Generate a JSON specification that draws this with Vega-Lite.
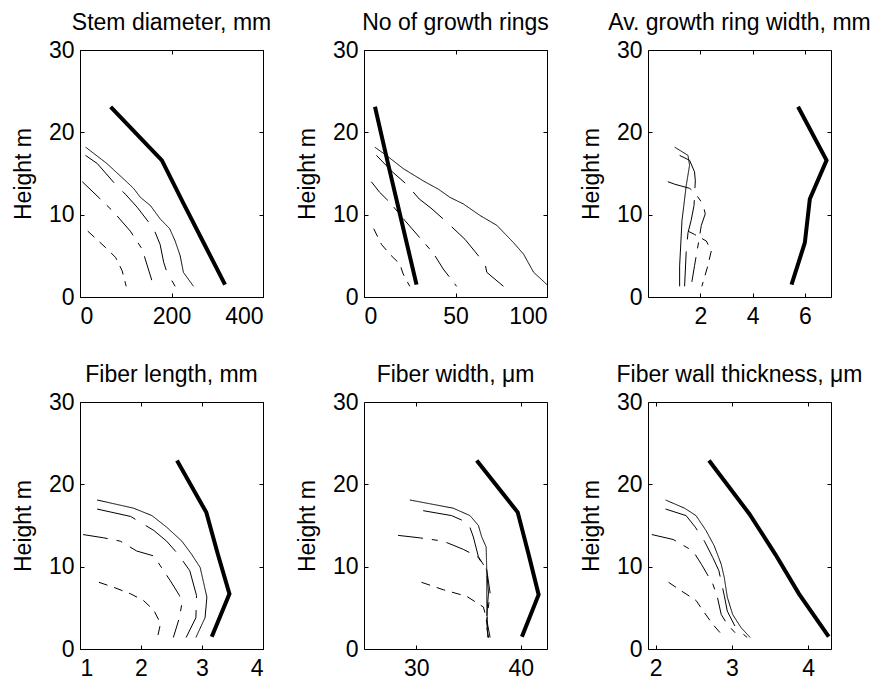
{
  "$schema": "https://vega.github.io/schema/vega-lite/v6.json",
  "padding": {"left": 11, "top": 11, "right": 5, "bottom": 0},
  "background": "white",
  "config": {
    "font": "Liberation Sans",
    "view": {"stroke": "black", "strokeWidth": 1},
    "axis": {
      "domain": false, "grid": false, "tickColor": "black", "tickSize": -4, "tickWidth": 1,
      "labelFont": "Liberation Sans", "labelFontSize": 23, "labelColor": "black",
      "titleFont": "Liberation Sans", "titleFontSize": 23, "titleFontWeight": "normal", "titleColor": "black"
    },
    "axisLeft": {"labelPadding": 10, "titlePadding": 13},
    "axisBottom": {"labelPadding": 12},
    "title": {"font": "Liberation Sans", "fontSize": 23, "fontWeight": "normal", "color": "black", "offset": 4}
  },
  "datasets": {
    "d": [
      {"p":1,"s":"T","x":67,"y":23.1},{"p":1,"s":"T","x":179,"y":16.6},{"p":1,"s":"T","x":225,"y":11.5},{"p":1,"s":"T","x":271,"y":6.5},{"p":1,"s":"T","x":317,"y":1.5},
      {"p":1,"s":"A","x":12.3,"y":18.2},{"p":1,"s":"A","x":59,"y":16.2},{"p":1,"s":"A","x":96,"y":14.3},{"p":1,"s":"A","x":117,"y":13.2},{"p":1,"s":"A","x":132,"y":12.1},{"p":1,"s":"A","x":154,"y":11.1},{"p":1,"s":"A","x":175,"y":9.5},{"p":1,"s":"A","x":196,"y":8.3},{"p":1,"s":"A","x":208,"y":6.8},{"p":1,"s":"A","x":219,"y":5.0},{"p":1,"s":"A","x":226,"y":3.0},{"p":1,"s":"A","x":248,"y":1.3},
      {"p":1,"s":"B","x":12,"y":17.2},{"p":1,"s":"B","x":38,"y":16.2},{"p":1,"s":"B","x":74,"y":13.9},{"p":1,"s":"B","x":99,"y":12.5},{"p":1,"s":"B","x":125,"y":10.9},{"p":1,"s":"B","x":161,"y":8.3},{"p":1,"s":"B","x":175,"y":6.4},{"p":1,"s":"B","x":183,"y":4.2},{"p":1,"s":"B","x":190,"y":3.0},{"p":1,"s":"B","x":208,"y":1.3},
      {"p":1,"s":"C","x":5,"y":14.0},{"p":1,"s":"C","x":52,"y":11.5},{"p":1,"s":"C","x":74,"y":10.3},{"p":1,"s":"C","x":110,"y":8.0},{"p":1,"s":"C","x":136,"y":5.8},{"p":1,"s":"C","x":146,"y":4.0},{"p":1,"s":"C","x":161,"y":1.3},
      {"p":1,"s":"D","x":17,"y":8.0},{"p":1,"s":"D","x":56,"y":6.0},{"p":1,"s":"D","x":78,"y":4.8},{"p":1,"s":"D","x":92,"y":3.2},{"p":1,"s":"D","x":101,"y":1.3},

      {"p":2,"s":"T","x":6,"y":23.1},{"p":2,"s":"T","x":12.8,"y":16.5},{"p":2,"s":"T","x":18.1,"y":11.5},{"p":2,"s":"T","x":23.4,"y":6.5},{"p":2,"s":"T","x":28.7,"y":1.5},
      {"p":2,"s":"A","x":5.9,"y":18.2},{"p":2,"s":"A","x":12.2,"y":17.2},{"p":2,"s":"A","x":21.4,"y":15.6},{"p":2,"s":"A","x":32.4,"y":14.1},{"p":2,"s":"A","x":40.6,"y":13.1},{"p":2,"s":"A","x":47,"y":12.1},{"p":2,"s":"A","x":54.3,"y":11.3},{"p":2,"s":"A","x":63.4,"y":9.9},{"p":2,"s":"A","x":72.6,"y":8.7},{"p":2,"s":"A","x":81.7,"y":6.6},{"p":2,"s":"A","x":87.2,"y":5.2},{"p":2,"s":"A","x":92.7,"y":3.0},{"p":2,"s":"A","x":100,"y":1.5},
      {"p":2,"s":"B","x":6.8,"y":17.2},{"p":2,"s":"B","x":15.5,"y":15.2},{"p":2,"s":"B","x":23.2,"y":13.7},{"p":2,"s":"B","x":30.2,"y":11.9},{"p":2,"s":"B","x":36.6,"y":10.8},{"p":2,"s":"B","x":45.2,"y":9.1},{"p":2,"s":"B","x":55.2,"y":7.0},{"p":2,"s":"B","x":60.7,"y":5.5},{"p":2,"s":"B","x":66.2,"y":4.0},{"p":2,"s":"B","x":67.1,"y":3.0},{"p":2,"s":"B","x":76.2,"y":1.3},
      {"p":2,"s":"C","x":4.0,"y":14.0},{"p":2,"s":"C","x":8.6,"y":12.7},{"p":2,"s":"C","x":14.1,"y":11.5},{"p":2,"s":"C","x":22.3,"y":9.3},{"p":2,"s":"C","x":30.5,"y":7.2},{"p":2,"s":"C","x":36.0,"y":5.8},{"p":2,"s":"C","x":38.8,"y":5.0},{"p":2,"s":"C","x":43.3,"y":3.4},{"p":2,"s":"C","x":50.6,"y":1.3},
      {"p":2,"s":"D","x":5.3,"y":8.3},{"p":2,"s":"D","x":9.5,"y":6.4},{"p":2,"s":"D","x":14.1,"y":5.2},{"p":2,"s":"D","x":19.6,"y":4.0},{"p":2,"s":"D","x":21.4,"y":2.8},{"p":2,"s":"D","x":25.0,"y":1.3},

      {"p":3,"s":"T","x":5.74,"y":23.1},{"p":3,"s":"T","x":6.83,"y":16.6},{"p":3,"s":"T","x":6.19,"y":11.9},{"p":3,"s":"T","x":6.0,"y":6.6},{"p":3,"s":"T","x":5.49,"y":1.5},
      {"p":3,"s":"A","x":1.02,"y":18.2},{"p":3,"s":"A","x":1.53,"y":17.2},{"p":3,"s":"A","x":1.59,"y":16.0},{"p":3,"s":"A","x":1.46,"y":13.5},{"p":3,"s":"A","x":1.37,"y":11.1},{"p":3,"s":"A","x":1.30,"y":9.3},{"p":3,"s":"A","x":1.25,"y":6.2},{"p":3,"s":"A","x":1.21,"y":3.8},{"p":3,"s":"A","x":1.21,"y":1.3},
      {"p":3,"s":"B","x":1.21,"y":17.2},{"p":3,"s":"B","x":1.59,"y":16.6},{"p":3,"s":"B","x":1.78,"y":15.2},{"p":3,"s":"B","x":1.81,"y":14.1},{"p":3,"s":"B","x":1.76,"y":11.1},{"p":3,"s":"B","x":1.65,"y":9.3},{"p":3,"s":"B","x":1.53,"y":7.8},{"p":3,"s":"B","x":1.46,"y":5.4},{"p":3,"s":"B","x":1.40,"y":1.3},
      {"p":3,"s":"C","x":0.76,"y":14.0},{"p":3,"s":"C","x":1.02,"y":13.7},{"p":3,"s":"C","x":1.59,"y":13.2},{"p":3,"s":"C","x":1.78,"y":12.7},{"p":3,"s":"C","x":2.1,"y":11.3},{"p":3,"s":"C","x":2.19,"y":10.1},{"p":3,"s":"C","x":2.04,"y":8.7},{"p":3,"s":"C","x":1.91,"y":6.2},{"p":3,"s":"C","x":1.78,"y":3.8},{"p":3,"s":"C","x":1.65,"y":1.3},
      {"p":3,"s":"D","x":1.53,"y":8.0},{"p":3,"s":"D","x":1.78,"y":7.6},{"p":3,"s":"D","x":2.23,"y":6.8},{"p":3,"s":"D","x":2.42,"y":5.6},{"p":3,"s":"D","x":2.29,"y":3.8},{"p":3,"s":"D","x":2.06,"y":1.3},

      {"p":4,"s":"T","x":2.59,"y":22.9},{"p":4,"s":"T","x":3.07,"y":16.6},{"p":4,"s":"T","x":3.26,"y":11.5},{"p":4,"s":"T","x":3.45,"y":6.7},{"p":4,"s":"T","x":3.16,"y":1.5},
      {"p":4,"s":"A","x":1.28,"y":18.1},{"p":4,"s":"A","x":1.88,"y":17.1},{"p":4,"s":"A","x":2.18,"y":16.2},{"p":4,"s":"A","x":2.42,"y":14.8},{"p":4,"s":"A","x":2.67,"y":13.1},{"p":4,"s":"A","x":2.83,"y":11.5},{"p":4,"s":"A","x":2.97,"y":9.9},{"p":4,"s":"A","x":3.08,"y":6.3},{"p":4,"s":"A","x":3.05,"y":3.8},{"p":4,"s":"A","x":2.90,"y":1.4},
      {"p":4,"s":"B","x":1.28,"y":17.0},{"p":4,"s":"B","x":1.83,"y":16.1},{"p":4,"s":"B","x":2.21,"y":14.4},{"p":4,"s":"B","x":2.42,"y":13.1},{"p":4,"s":"B","x":2.61,"y":11.5},{"p":4,"s":"B","x":2.80,"y":9.5},{"p":4,"s":"B","x":2.91,"y":6.5},{"p":4,"s":"B","x":2.90,"y":3.8},{"p":4,"s":"B","x":2.74,"y":1.4},
      {"p":4,"s":"C","x":1.05,"y":13.9},{"p":4,"s":"C","x":1.39,"y":13.5},{"p":4,"s":"C","x":1.66,"y":13.1},{"p":4,"s":"C","x":1.93,"y":11.9},{"p":4,"s":"C","x":2.21,"y":11.3},{"p":4,"s":"C","x":2.48,"y":8.3},{"p":4,"s":"C","x":2.63,"y":6.5},{"p":4,"s":"C","x":2.67,"y":5.5},{"p":4,"s":"C","x":2.63,"y":3.8},{"p":4,"s":"C","x":2.53,"y":1.4},
      {"p":4,"s":"D","x":1.31,"y":8.1},{"p":4,"s":"D","x":1.55,"y":7.5},{"p":4,"s":"D","x":1.83,"y":6.7},{"p":4,"s":"D","x":2.04,"y":5.9},{"p":4,"s":"D","x":2.21,"y":4.7},{"p":4,"s":"D","x":2.32,"y":3.1},{"p":4,"s":"D","x":2.27,"y":1.4},

      {"p":5,"s":"T","x":35.78,"y":22.9},{"p":5,"s":"T","x":39.7,"y":16.6},{"p":5,"s":"T","x":40.74,"y":11.5},{"p":5,"s":"T","x":41.7,"y":6.6},{"p":5,"s":"T","x":40.1,"y":1.5},
      {"p":5,"s":"A","x":29.38,"y":18.1},{"p":5,"s":"A","x":33.54,"y":17.1},{"p":5,"s":"A","x":35.14,"y":16.2},{"p":5,"s":"A","x":35.94,"y":15.0},{"p":5,"s":"A","x":36.26,"y":13.6},{"p":5,"s":"A","x":36.68,"y":12.4},{"p":5,"s":"A","x":36.74,"y":9.6},{"p":5,"s":"A","x":36.74,"y":5.6},{"p":5,"s":"A","x":36.84,"y":1.4},
      {"p":5,"s":"B","x":30.66,"y":16.8},{"p":5,"s":"B","x":33.38,"y":16.2},{"p":5,"s":"B","x":34.98,"y":15.3},{"p":5,"s":"B","x":35.46,"y":13.6},{"p":5,"s":"B","x":35.94,"y":11.2},{"p":5,"s":"B","x":36.74,"y":9.6},{"p":5,"s":"B","x":36.9,"y":6.8},{"p":5,"s":"B","x":36.68,"y":3.0},{"p":5,"s":"B","x":36.9,"y":1.4},
      {"p":5,"s":"C","x":28.26,"y":13.8},{"p":5,"s":"C","x":30.34,"y":13.5},{"p":5,"s":"C","x":32.58,"y":13.1},{"p":5,"s":"C","x":34.5,"y":12.1},{"p":5,"s":"C","x":35.88,"y":11.2},{"p":5,"s":"C","x":36.74,"y":9.6},{"p":5,"s":"C","x":37.06,"y":6.8},{"p":5,"s":"C","x":36.74,"y":3.5},{"p":5,"s":"C","x":37.06,"y":1.4},
      {"p":5,"s":"D","x":30.5,"y":8.1},{"p":5,"s":"D","x":32.58,"y":7.2},{"p":5,"s":"D","x":34.82,"y":6.4},{"p":5,"s":"D","x":36.42,"y":5.1},{"p":5,"s":"D","x":36.68,"y":3.8},{"p":5,"s":"D","x":36.9,"y":1.4},

      {"p":6,"s":"T","x":2.70,"y":22.9},{"p":6,"s":"T","x":3.23,"y":16.4},{"p":6,"s":"T","x":3.57,"y":11.5},{"p":6,"s":"T","x":3.88,"y":6.7},{"p":6,"s":"T","x":4.27,"y":1.5},
      {"p":6,"s":"A","x":2.13,"y":18.1},{"p":6,"s":"A","x":2.38,"y":17.1},{"p":6,"s":"A","x":2.53,"y":16.2},{"p":6,"s":"A","x":2.66,"y":14.4},{"p":6,"s":"A","x":2.77,"y":12.5},{"p":6,"s":"A","x":2.86,"y":10.3},{"p":6,"s":"A","x":2.90,"y":8.7},{"p":6,"s":"A","x":2.94,"y":6.3},{"p":6,"s":"A","x":3.01,"y":4.2},{"p":6,"s":"A","x":3.12,"y":2.6},{"p":6,"s":"A","x":3.24,"y":1.4},
      {"p":6,"s":"B","x":2.13,"y":17.0},{"p":6,"s":"B","x":2.40,"y":16.2},{"p":6,"s":"B","x":2.52,"y":14.8},{"p":6,"s":"B","x":2.64,"y":13.1},{"p":6,"s":"B","x":2.75,"y":11.1},{"p":6,"s":"B","x":2.83,"y":9.5},{"p":6,"s":"B","x":2.90,"y":6.5},{"p":6,"s":"B","x":2.94,"y":4.6},{"p":6,"s":"B","x":3.05,"y":2.6},{"p":6,"s":"B","x":3.20,"y":1.4},
      {"p":6,"s":"C","x":1.95,"y":13.9},{"p":6,"s":"C","x":2.23,"y":13.3},{"p":6,"s":"C","x":2.49,"y":11.9},{"p":6,"s":"C","x":2.60,"y":10.3},{"p":6,"s":"C","x":2.75,"y":7.9},{"p":6,"s":"C","x":2.81,"y":6.3},{"p":6,"s":"C","x":2.86,"y":4.2},{"p":6,"s":"C","x":2.94,"y":3.0},{"p":6,"s":"C","x":3.10,"y":1.4},
      {"p":6,"s":"D","x":2.17,"y":8.1},{"p":6,"s":"D","x":2.33,"y":7.1},{"p":6,"s":"D","x":2.53,"y":5.9},{"p":6,"s":"D","x":2.64,"y":4.4},{"p":6,"s":"D","x":2.75,"y":3.0},{"p":6,"s":"D","x":2.90,"y":1.4}
    ]
  },
  "data": {"name": "d"},
  "columns": 3,
  "spacing": {"column": 101, "row": 105},
  "bounds": "flush",
  "concat": [
    {
      "width": 183, "height": 247, "title": "Stem diameter, mm",
      "transform": [{"filter": "datum.p == 1"}],
      "layer": [
        {"transform": [{"filter": "datum.s != 'T'"}],
         "mark": {"type": "line", "color": "black", "strokeWidth": 1, "clip": true},
         "encoding": {
           "x": {"field": "x", "type": "quantitative", "scale": {"domain": [0, 400], "nice": false, "zero": false}, "axis": {"orient": "bottom", "values": [0, 200, 400], "title": null}},
           "y": {"field": "y", "type": "quantitative", "scale": {"domain": [0, 30], "nice": false}, "axis": {"orient": "left", "values": [0, 10, 20, 30], "title": "Height m"}},
           "strokeDash": {"field": "s", "type": "nominal", "scale": {"domain": ["A", "B", "C", "D"], "range": [[1, 0], [40, 12], [25, 9, 6, 9], [9, 7]]}, "legend": null},
           "order": {"field": "y", "sort": "descending"}
         }},
        {"transform": [{"filter": "datum.s == 'T'"}],
         "mark": {"type": "line", "color": "black", "strokeWidth": 4, "clip": true},
         "encoding": {
           "x": {"field": "x", "type": "quantitative", "scale": {"domain": [0, 400], "nice": false, "zero": false}, "axis": {"orient": "top", "values": [0, 200, 400], "labels": false, "title": null}},
           "y": {"field": "y", "type": "quantitative", "scale": {"domain": [0, 30], "nice": false}, "axis": {"orient": "right", "values": [0, 10, 20, 30], "labels": false, "title": null}},
           "order": {"field": "y", "sort": "descending"}
         }}
      ],
      "resolve": {"axis": {"x": "independent", "y": "independent"}}
    },
    {
      "width": 183, "height": 247, "title": "No of growth rings",
      "transform": [{"filter": "datum.p == 2"}],
      "layer": [
        {"transform": [{"filter": "datum.s != 'T'"}],
         "mark": {"type": "line", "color": "black", "strokeWidth": 1, "clip": true},
         "encoding": {
           "x": {"field": "x", "type": "quantitative", "scale": {"domain": [0, 100], "nice": false, "zero": false}, "axis": {"orient": "bottom", "values": [0, 50, 100], "title": null}},
           "y": {"field": "y", "type": "quantitative", "scale": {"domain": [0, 30], "nice": false}, "axis": {"orient": "left", "values": [0, 10, 20, 30], "title": "Height m"}},
           "strokeDash": {"field": "s", "type": "nominal", "scale": {"domain": ["A", "B", "C", "D"], "range": [[1, 0], [40, 12], [25, 9, 6, 9], [9, 7]]}, "legend": null},
           "order": {"field": "y", "sort": "descending"}
         }},
        {"transform": [{"filter": "datum.s == 'T'"}],
         "mark": {"type": "line", "color": "black", "strokeWidth": 4, "clip": true},
         "encoding": {
           "x": {"field": "x", "type": "quantitative", "scale": {"domain": [0, 100], "nice": false, "zero": false}, "axis": {"orient": "top", "values": [0, 50, 100], "labels": false, "title": null}},
           "y": {"field": "y", "type": "quantitative", "scale": {"domain": [0, 30], "nice": false}, "axis": {"orient": "right", "values": [0, 10, 20, 30], "labels": false, "title": null}},
           "order": {"field": "y", "sort": "descending"}
         }}
      ],
      "resolve": {"axis": {"x": "independent", "y": "independent"}}
    },
    {
      "width": 183, "height": 247, "title": "Av. growth ring width, mm",
      "transform": [{"filter": "datum.p == 3"}],
      "layer": [
        {"transform": [{"filter": "datum.s != 'T'"}],
         "mark": {"type": "line", "color": "black", "strokeWidth": 1, "clip": true},
         "encoding": {
           "x": {"field": "x", "type": "quantitative", "scale": {"domain": [0, 7], "nice": false, "zero": false}, "axis": {"orient": "bottom", "values": [2, 4, 6], "title": null}},
           "y": {"field": "y", "type": "quantitative", "scale": {"domain": [0, 30], "nice": false}, "axis": {"orient": "left", "values": [0, 10, 20, 30], "title": "Height m"}},
           "strokeDash": {"field": "s", "type": "nominal", "scale": {"domain": ["A", "B", "C", "D"], "range": [[1, 0], [40, 12], [25, 9, 6, 9], [9, 7]]}, "legend": null},
           "order": {"field": "y", "sort": "descending"}
         }},
        {"transform": [{"filter": "datum.s == 'T'"}],
         "mark": {"type": "line", "color": "black", "strokeWidth": 4, "clip": true},
         "encoding": {
           "x": {"field": "x", "type": "quantitative", "scale": {"domain": [0, 7], "nice": false, "zero": false}, "axis": {"orient": "top", "values": [2, 4, 6], "labels": false, "title": null}},
           "y": {"field": "y", "type": "quantitative", "scale": {"domain": [0, 30], "nice": false}, "axis": {"orient": "right", "values": [0, 10, 20, 30], "labels": false, "title": null}},
           "order": {"field": "y", "sort": "descending"}
         }}
      ],
      "resolve": {"axis": {"x": "independent", "y": "independent"}}
    },
    {
      "width": 183, "height": 247, "title": "Fiber length, mm",
      "transform": [{"filter": "datum.p == 4"}],
      "layer": [
        {"transform": [{"filter": "datum.s != 'T'"}],
         "mark": {"type": "line", "color": "black", "strokeWidth": 1, "clip": true},
         "encoding": {
           "x": {"field": "x", "type": "quantitative", "scale": {"domain": [1, 4], "nice": false, "zero": false}, "axis": {"orient": "bottom", "values": [1, 2, 3, 4], "title": null}},
           "y": {"field": "y", "type": "quantitative", "scale": {"domain": [0, 30], "nice": false}, "axis": {"orient": "left", "values": [0, 10, 20, 30], "title": "Height m"}},
           "strokeDash": {"field": "s", "type": "nominal", "scale": {"domain": ["A", "B", "C", "D"], "range": [[1, 0], [40, 12], [25, 9, 6, 9], [9, 7]]}, "legend": null},
           "order": {"field": "y", "sort": "descending"}
         }},
        {"transform": [{"filter": "datum.s == 'T'"}],
         "mark": {"type": "line", "color": "black", "strokeWidth": 4, "clip": true},
         "encoding": {
           "x": {"field": "x", "type": "quantitative", "scale": {"domain": [1, 4], "nice": false, "zero": false}, "axis": {"orient": "top", "values": [1, 2, 3, 4], "labels": false, "title": null}},
           "y": {"field": "y", "type": "quantitative", "scale": {"domain": [0, 30], "nice": false}, "axis": {"orient": "right", "values": [0, 10, 20, 30], "labels": false, "title": null}},
           "order": {"field": "y", "sort": "descending"}
         }}
      ],
      "resolve": {"axis": {"x": "independent", "y": "independent"}}
    },
    {
      "width": 183, "height": 247, "title": "Fiber width, μm",
      "transform": [{"filter": "datum.p == 5"}],
      "layer": [
        {"transform": [{"filter": "datum.s != 'T'"}],
         "mark": {"type": "line", "color": "black", "strokeWidth": 1, "clip": true},
         "encoding": {
           "x": {"field": "x", "type": "quantitative", "scale": {"domain": [25, 42.5], "nice": false, "zero": false}, "axis": {"orient": "bottom", "values": [30, 40], "title": null}},
           "y": {"field": "y", "type": "quantitative", "scale": {"domain": [0, 30], "nice": false}, "axis": {"orient": "left", "values": [0, 10, 20, 30], "title": "Height m"}},
           "strokeDash": {"field": "s", "type": "nominal", "scale": {"domain": ["A", "B", "C", "D"], "range": [[1, 0], [40, 12], [25, 9, 6, 9], [9, 7]]}, "legend": null},
           "order": {"field": "y", "sort": "descending"}
         }},
        {"transform": [{"filter": "datum.s == 'T'"}],
         "mark": {"type": "line", "color": "black", "strokeWidth": 4, "clip": true},
         "encoding": {
           "x": {"field": "x", "type": "quantitative", "scale": {"domain": [25, 42.5], "nice": false, "zero": false}, "axis": {"orient": "top", "values": [30, 40], "labels": false, "title": null}},
           "y": {"field": "y", "type": "quantitative", "scale": {"domain": [0, 30], "nice": false}, "axis": {"orient": "right", "values": [0, 10, 20, 30], "labels": false, "title": null}},
           "order": {"field": "y", "sort": "descending"}
         }}
      ],
      "resolve": {"axis": {"x": "independent", "y": "independent"}}
    },
    {
      "width": 183, "height": 247, "title": "Fiber wall thickness, μm",
      "transform": [{"filter": "datum.p == 6"}],
      "layer": [
        {"transform": [{"filter": "datum.s != 'T'"}],
         "mark": {"type": "line", "color": "black", "strokeWidth": 1, "clip": true},
         "encoding": {
           "x": {"field": "x", "type": "quantitative", "scale": {"domain": [1.9, 4.3], "nice": false, "zero": false}, "axis": {"orient": "bottom", "values": [2, 3, 4], "title": null}},
           "y": {"field": "y", "type": "quantitative", "scale": {"domain": [0, 30], "nice": false}, "axis": {"orient": "left", "values": [0, 10, 20, 30], "title": "Height m"}},
           "strokeDash": {"field": "s", "type": "nominal", "scale": {"domain": ["A", "B", "C", "D"], "range": [[1, 0], [40, 12], [25, 9, 6, 9], [9, 7]]}, "legend": null},
           "order": {"field": "y", "sort": "descending"}
         }},
        {"transform": [{"filter": "datum.s == 'T'"}],
         "mark": {"type": "line", "color": "black", "strokeWidth": 4, "clip": true},
         "encoding": {
           "x": {"field": "x", "type": "quantitative", "scale": {"domain": [1.9, 4.3], "nice": false, "zero": false}, "axis": {"orient": "top", "values": [2, 3, 4], "labels": false, "title": null}},
           "y": {"field": "y", "type": "quantitative", "scale": {"domain": [0, 30], "nice": false}, "axis": {"orient": "right", "values": [0, 10, 20, 30], "labels": false, "title": null}},
           "order": {"field": "y", "sort": "descending"}
         }}
      ],
      "resolve": {"axis": {"x": "independent", "y": "independent"}}
    }
  ]
}
